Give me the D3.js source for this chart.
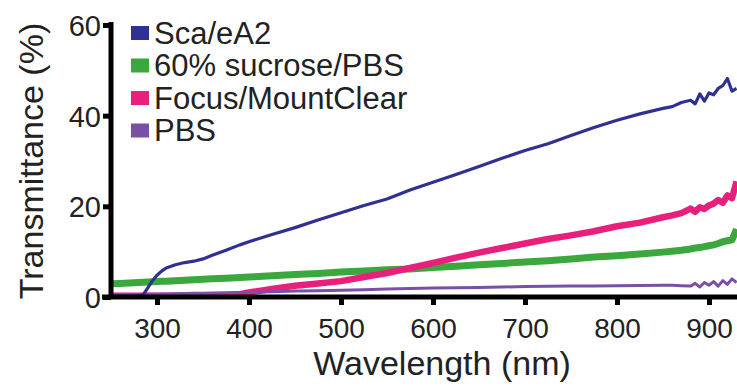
<!DOCTYPE html>
<html lang="en">
<head>
  <meta charset="UTF-8">
  <title>Transmittance vs wavelength</title>
  <script src="https://d3js.org/d3.v7.min.js"></script>
  <style>
    body { margin: 0; background: #fff; }
    svg { display: block; }
    svg text { font-family: "Liberation Sans", Arial, Helvetica, sans-serif; fill: #222; }
  </style>
</head>
<body>
  <svg width="737" height="386"></svg>
  <script>
    // wavelength grid (nm), finer where the curves change quickly
    const wavelengths = [250, 260, 270, 280, 285, 290, 295, 300, 305, 310, 320, 330, 340, 350, 360,
      375, 390, 400, 425, 450, 475, 500, 525, 550, 575, 600, 625, 650, 675, 700, 725, 750, 775,
      800, 825, 850, 860, 870, 880, 885, 890, 895, 900, 905, 910, 915, 920, 925, 930];

    const scaleA2 = [0.2, 0.2, 0.2, 0.3, 0.5, 2.0, 3.6, 4.8, 5.7, 6.4, 7.1, 7.6, 7.9, 8.4, 9.2,
      10.3, 11.5, 12.2, 13.8, 15.3, 17.0, 18.6, 20.2, 21.6, 23.6, 25.3, 27.0, 28.8, 30.6, 32.3, 33.8, 35.6, 37.4,
      39.0, 40.4, 41.6, 42.0, 42.9, 43.4, 42.6, 44.8, 43.2, 45.0, 44.6, 46.0, 46.6, 48.2, 45.4, 46.0];

    const sucrose = [2.9, 3.0, 3.1, 3.2, 3.25, 3.3, 3.35, 3.4, 3.45, 3.5, 3.6, 3.7, 3.8, 3.9, 4.0,
      4.15, 4.3, 4.4, 4.7, 4.95, 5.2, 5.5, 5.75, 6.0, 6.2, 6.5, 6.8, 7.1, 7.4, 7.7, 8.0, 8.4, 8.8,
      9.1, 9.5, 9.9, 10.1, 10.3, 10.6, 10.8, 10.9, 11.1, 11.3, 11.5, 11.8, 12.2, 12.4, 12.6, 15.0];

    const focusClear = [0.3, 0.3, 0.3, 0.3, 0.3, 0.3, 0.3, 0.3, 0.3, 0.3, 0.3, 0.3, 0.3, 0.3, 0.35,
      0.4, 0.6, 1.0, 1.8, 2.5, 3.0, 3.5, 4.4, 5.3, 6.4, 7.5, 8.7, 9.8, 10.8, 11.8, 12.8, 13.6, 14.5,
      15.6, 16.4, 17.6, 18.0, 18.5, 19.5, 18.8, 19.8, 19.4, 20.2, 20.6, 21.4, 20.8, 22.4, 21.8, 25.5];

    const pbs = [0.4, 0.45, 0.5, 0.55, 0.55, 0.6, 0.6, 0.6, 0.65, 0.65, 0.7, 0.75, 0.8, 0.85, 0.9,
      0.95, 1.0, 1.0, 1.15, 1.3, 1.4, 1.5, 1.6, 1.75, 1.9, 2.0, 2.05, 2.1, 2.2, 2.3, 2.35, 2.4, 2.45,
      2.5, 2.55, 2.6, 2.6, 2.5, 2.4, 3.0, 2.2, 3.2, 2.6, 3.4, 2.4, 3.6, 2.8, 4.0, 3.2];

    const seriesNames = ["Sca/eA2", "60% sucrose/PBS", "Focus/MountClear", "PBS"];
    const seriesColors = ["#2f3192", "#3aa83c", "#e8207c", "#7a4fa6"];
    const seriesWidths = [3.2, 7, 6.5, 3];
    const seriesValues = [scaleA2, sucrose, focusClear, pbs];
    const drawOrder = [1, 2, 3, 0];

    const xTicks = [300, 400, 500, 600, 700, 800, 900];
    const yTicks = [0, 20, 40, 60];

    const svg = d3.select("svg");

    const x = d3.scaleLinear().domain([250, 930]).range([111, 736.6]);
    const y = d3.scaleLinear().domain([0, 60]).range([297, 25]);

    // curves
    const line = d3.line()
      .x((d, i) => x(wavelengths[i]))
      .y(d => y(d));

    drawOrder.forEach(k => {
      svg.append("path")
        .attr("d", line(seriesValues[k]))
        .attr("fill", "none")
        .attr("stroke", seriesColors[k])
        .attr("stroke-width", seriesWidths[k])
        .attr("stroke-linejoin", "round");
    });

    // x axis
    const gx = svg.append("g")
      .attr("transform", `translate(0,${y(0)})`)
      .call(d3.axisBottom(x).tickValues(xTicks).tickSize(8).tickSizeOuter(0).tickFormat(d3.format("d")));
    gx.select(".domain").attr("stroke", "#000").attr("stroke-width", 5)
      .attr("d", `M${x(250) - 9},0H737`);
    gx.selectAll(".tick line").attr("stroke", "#000").attr("stroke-width", 5);
    gx.selectAll(".tick text").attr("y", 41).attr("dy", null).attr("font-size", 28);

    // y axis
    const gy = svg.append("g")
      .attr("transform", `translate(${x(250)},0)`)
      .call(d3.axisLeft(y).tickValues(yTicks).tickSize(8).tickSizeOuter(0));
    gy.select(".domain").attr("stroke", "#000").attr("stroke-width", 5)
      .attr("d", `M0,${y(60) - 3}V${y(0) + 2}`);
    gy.selectAll(".tick line").attr("stroke", "#000").attr("stroke-width", 5);
    gy.selectAll(".tick text").attr("x", -10).attr("dy", "0.36em").attr("font-size", 29);

    // axis titles
    svg.append("text")
      .attr("x", 442)
      .attr("y", 375)
      .attr("text-anchor", "middle")
      .attr("font-size", 34)
      .text("Wavelength (nm)");

    svg.append("text")
      .attr("transform", "translate(43,161) rotate(-90)")
      .attr("text-anchor", "middle")
      .attr("font-size", 34)
      .text("Transmittance (%)");

    // legend
    const legend = svg.append("g").attr("transform", "translate(131,33)");
    seriesNames.forEach((name, i) => {
      const row = legend.append("g").attr("transform", `translate(0,${i * 32.5})`);
      row.append("rect")
        .attr("x", 0).attr("y", -7)
        .attr("width", 18).attr("height", 14)
        .attr("fill", seriesColors[i]);
      row.append("text")
        .attr("x", 23)
        .attr("y", 10.5)
        .attr("font-size", 31)
        .text(name);
    });
  </script>
</body>
</html>
